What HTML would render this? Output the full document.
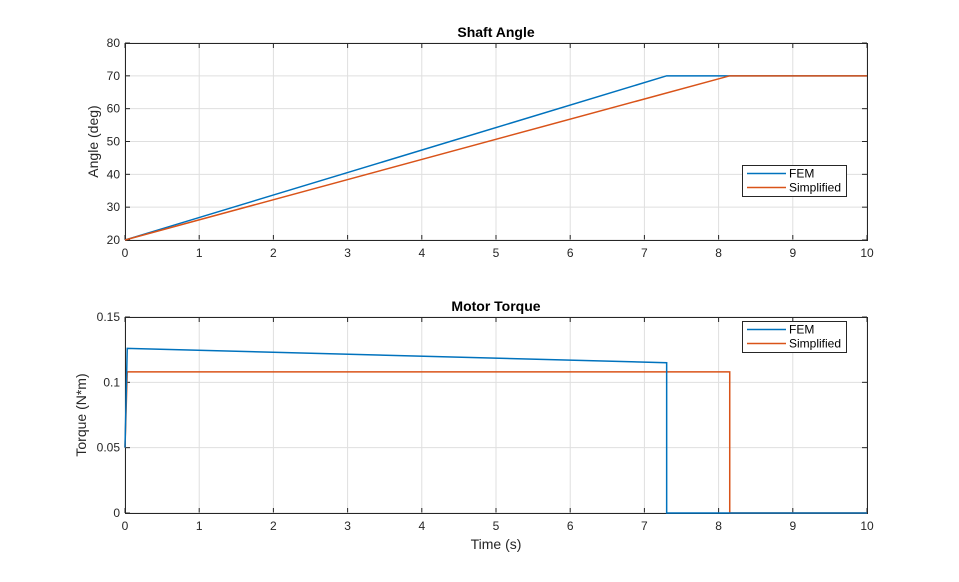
<!DOCTYPE html>
<html><head><meta charset="utf-8"><style>
body{margin:0;background:#fff;font-family:"Liberation Sans",Arial,sans-serif}
svg text{font-family:"Liberation Sans",Arial,sans-serif}
</style></head><body>
<svg id="fig" width="959" height="577" xmlns="http://www.w3.org/2000/svg"></svg>
<script>
const angleT=[0,7.3,10];
const angleFEM=[20,70,70];
const angleSimpT=[0,8.15,10];
const angleSimp=[20,70,70];
const torqueT_FEM=[0,0.03,7.3,7.3,10];
const torqueFEM=[0.05,0.126,0.115,0,0];
const torqueT_Simp=[0,0.03,8.15,8.15,10];
const torqueSimp=[0.05,0.108,0.108,0,0];
const xTicks=[0,1,2,3,4,5,6,7,8,9,10];
const angleTicks=[20,30,40,50,60,70,80];
const torqueTicks=[0,0.05,0.1,0.15];
const torqueTickLabels=['0','0.05','0.1','0.15'];
const NS='http://www.w3.org/2000/svg';
const svg=document.getElementById('fig');
function mk(tag,attrs,parent){const e=document.createElementNS(NS,tag);for(const k in attrs)e.setAttribute(k,attrs[k]);(parent||svg).appendChild(e);return e;}
function axes(cfg){
 const g=mk('g',{});
 
 
 const X=v=>cfg.x0+(v-0)/(10-0)*(cfg.x1-cfg.x0);
 const Y=v=>cfg.y1-(v-cfg.ymin)/(cfg.ymax-cfg.ymin)*(cfg.y1-cfg.y0);
 mk('rect',{x:cfg.x0,y:cfg.y0,width:cfg.x1-cfg.x0,height:cfg.y1-cfg.y0,fill:'#fff'},g);
 xTicks.forEach(t=>{const x=X(t);
  mk('line',{x1:x,x2:x,y1:cfg.y0,y2:cfg.y1,stroke:'#dfdfdf','stroke-width':1},g);
  mk('line',{x1:x,x2:x,y1:cfg.y1,y2:cfg.y1-5,stroke:'#262626'},g);
  mk('line',{x1:x,x2:x,y1:cfg.y0,y2:cfg.y0+5,stroke:'#262626'},g);
  const tx=mk('text',{x:x,y:cfg.y1+17,'text-anchor':'middle','font-size':12,fill:'#262626'},g);tx.textContent=t;
  
  
 });
 cfg.yt.forEach((t,i)=>{const y=Y(t);
  mk('line',{x1:cfg.x0,x2:cfg.x1,y1:y,y2:y,stroke:'#dfdfdf'},g);
  mk('line',{x1:cfg.x0,x2:cfg.x0+5,y1:y,y2:y,stroke:'#262626'},g);
  mk('line',{x1:cfg.x1,x2:cfg.x1-5,y1:y,y2:y,stroke:'#262626'},g);
  const tx=mk('text',{x:cfg.x0-5,y:y+4,'text-anchor':'end','font-size':12,fill:'#262626'},g);tx.textContent=cfg.yl[i];
  
  
 });
 mk('rect',{x:cfg.x0+0.5,y:cfg.y0+0.5,width:cfg.x1-cfg.x0,height:cfg.y1-cfg.y0,fill:'none',stroke:'#262626'},g);
 cfg.series.forEach(s=>{
  const p=mk('polyline',{points:s.t.map((t,i)=>X(t)+','+Y(s.v[i])).join(' '),fill:'none',stroke:s.c,'stroke-width':1.5},g);
  
  
 });
 const ti=mk('text',{x:(cfg.x0+cfg.x1)/2,y:cfg.y0-6,'text-anchor':'middle','font-size':14,'font-weight':'bold',fill:'#000'},g);ti.textContent=cfg.title;
 
 
 const yl=mk('text',{x:0,y:0,transform:`translate(${cfg.ylx},${(cfg.y0+cfg.y1)/2}) rotate(-90)`,'text-anchor':'middle','font-size':14,fill:'#262626'},g);yl.textContent=cfg.ylabel;
 
 
 const lg=mk('g',{},g);
 
 
 mk('rect',{x:742.5,y:cfg.ly+0.5,width:104,height:31,fill:'#fff',stroke:'#262626'},lg);
 [['FEM','#0072BD'],['Simplified','#D95319']].forEach((e,i)=>{
  const yy=cfg.ly+8.5+i*14;
  mk('line',{x1:747,x2:786,y1:yy,y2:yy,stroke:e[1],'stroke-width':1.5},lg);
  const t=mk('text',{x:789,y:yy+4,'font-size':12,fill:'#000'},lg);t.textContent=e[0];
  
  
 });
 return {X,Y};
}
axes({name:'shaft-angle-axes',x0:125,x1:867,y0:43,y1:240,ymin:20,ymax:80,yt:angleTicks,yl:angleTicks,title:'Shaft Angle',ylabel:'Angle (deg)',ylx:98,ly:165,
 series:[{t:angleT,v:angleFEM,c:'#0072BD',name:'fem-angle-line'},{t:angleSimpT,v:angleSimp,c:'#D95319',name:'simplified-angle-line'}]});
axes({name:'motor-torque-axes',x0:125,x1:867,y0:317,y1:513,ymin:0,ymax:0.15,yt:torqueTicks,yl:torqueTickLabels,title:'Motor Torque',ylabel:'Torque (N*m)',ylx:86,ly:321,
 series:[{t:torqueT_Simp,v:torqueSimp,c:'#D95319',name:'simplified-torque-line'},{t:torqueT_FEM,v:torqueFEM,c:'#0072BD',name:'fem-torque-line'}]});
const xl=mk('text',{x:496,y:549,'text-anchor':'middle','font-size':14,fill:'#262626'});xl.textContent='Time (s)';


</script>
</body></html>
